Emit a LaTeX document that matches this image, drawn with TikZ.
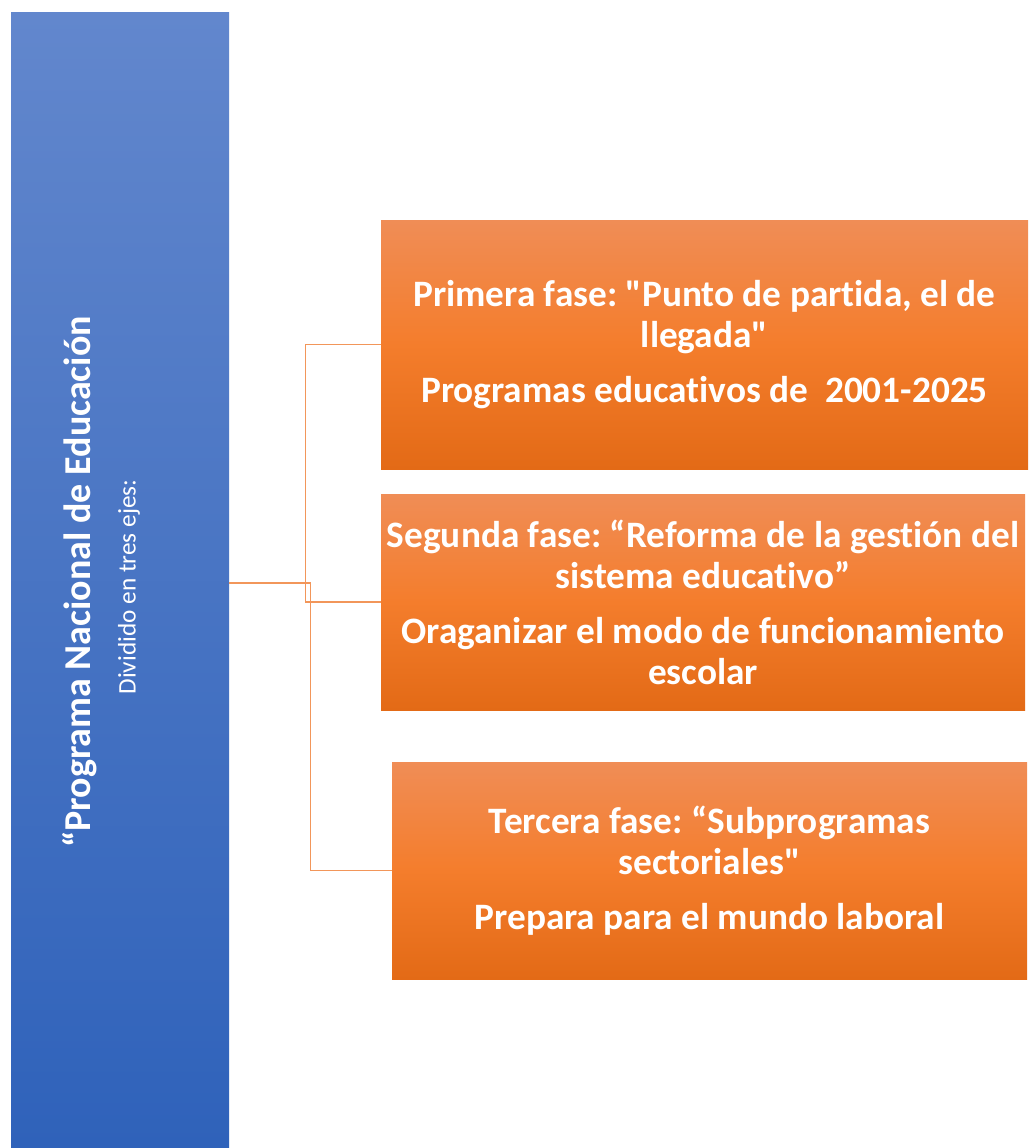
\documentclass[tikz,border=0pt]{standalone}
\usepackage{fontspec}
\setmainfont{Carlito}[Ligatures={TeXOff,NoCommon}]
\frenchspacing
\definecolor{bluetop}{RGB}{98,135,205}
\definecolor{bluebot}{RGB}{47,98,186}
\definecolor{ortop}{RGB}{240,141,86}
\definecolor{ormid}{RGB}{244,125,44}
\definecolor{orbot}{RGB}{227,106,22}
\definecolor{conn}{RGB}{242,150,90}
\tikzset{
  obox/.style={rectangle, inner sep=0pt, draw=none, top color=ortop, bottom color=orbot, middle color=ormid,
     text=white, align=center, font=\bfseries\fontsize{37.3}{41}\selectfont},
  connline/.style={draw=conn, line width=1.1pt},
}
\begin{document}
\begin{tikzpicture}[x=1pt,y=-1pt]
\useasboundingbox (0,0) rectangle (1028,1148);
% blue column
\node[rectangle, inner sep=0pt, top color=bluetop, bottom color=bluebot, minimum width=218pt, minimum height=1135pt] (blue) at (120,580.5) {};
\node[rotate=90, text=white, inner sep=0pt, font=\bfseries\fontsize{38}{44}\selectfont] (title) at (80,582)
  {“Programa Nacional de Educación};
\node[rotate=90, text=white, inner sep=0pt, font=\fontsize{25.3}{30}\selectfont] (sub) at (129,587)
  {Dividido en tres ejes:};
% orange boxes
\node[obox, minimum width=647pt, minimum height=249pt] (b1) at (704.5,344.5)
  {Primera fase: "Punto de partida, el de\\ llegada"\\[14pt] Programas educativos de\ \ 2001-2025};
\node[obox, minimum width=644pt, minimum height=216pt] (b2) at (703,602)
  {Segunda fase: “Reforma de la gestión del\\ sistema educativo”\\[14pt] Oraganizar el modo de funcionamiento\\ escolar};
\node[obox, minimum width=635pt, minimum height=217pt] (b3) at (709.5,870.5)
  {Tercera fase: “Subprogramas\\ sectoriales"\\[14pt] Prepara para el mundo laboral};
% connectors
\coordinate (src) at ([yshift=-2.5pt]blue.east);
\draw[connline] (src) -- ++(76,0) |- (b1.west);
\draw[connline] (src) -- ++(76,0) |- (b2.west);
\draw[connline] (src) -- ++(81,0) |- (b3.west);
\end{tikzpicture}
\end{document}
